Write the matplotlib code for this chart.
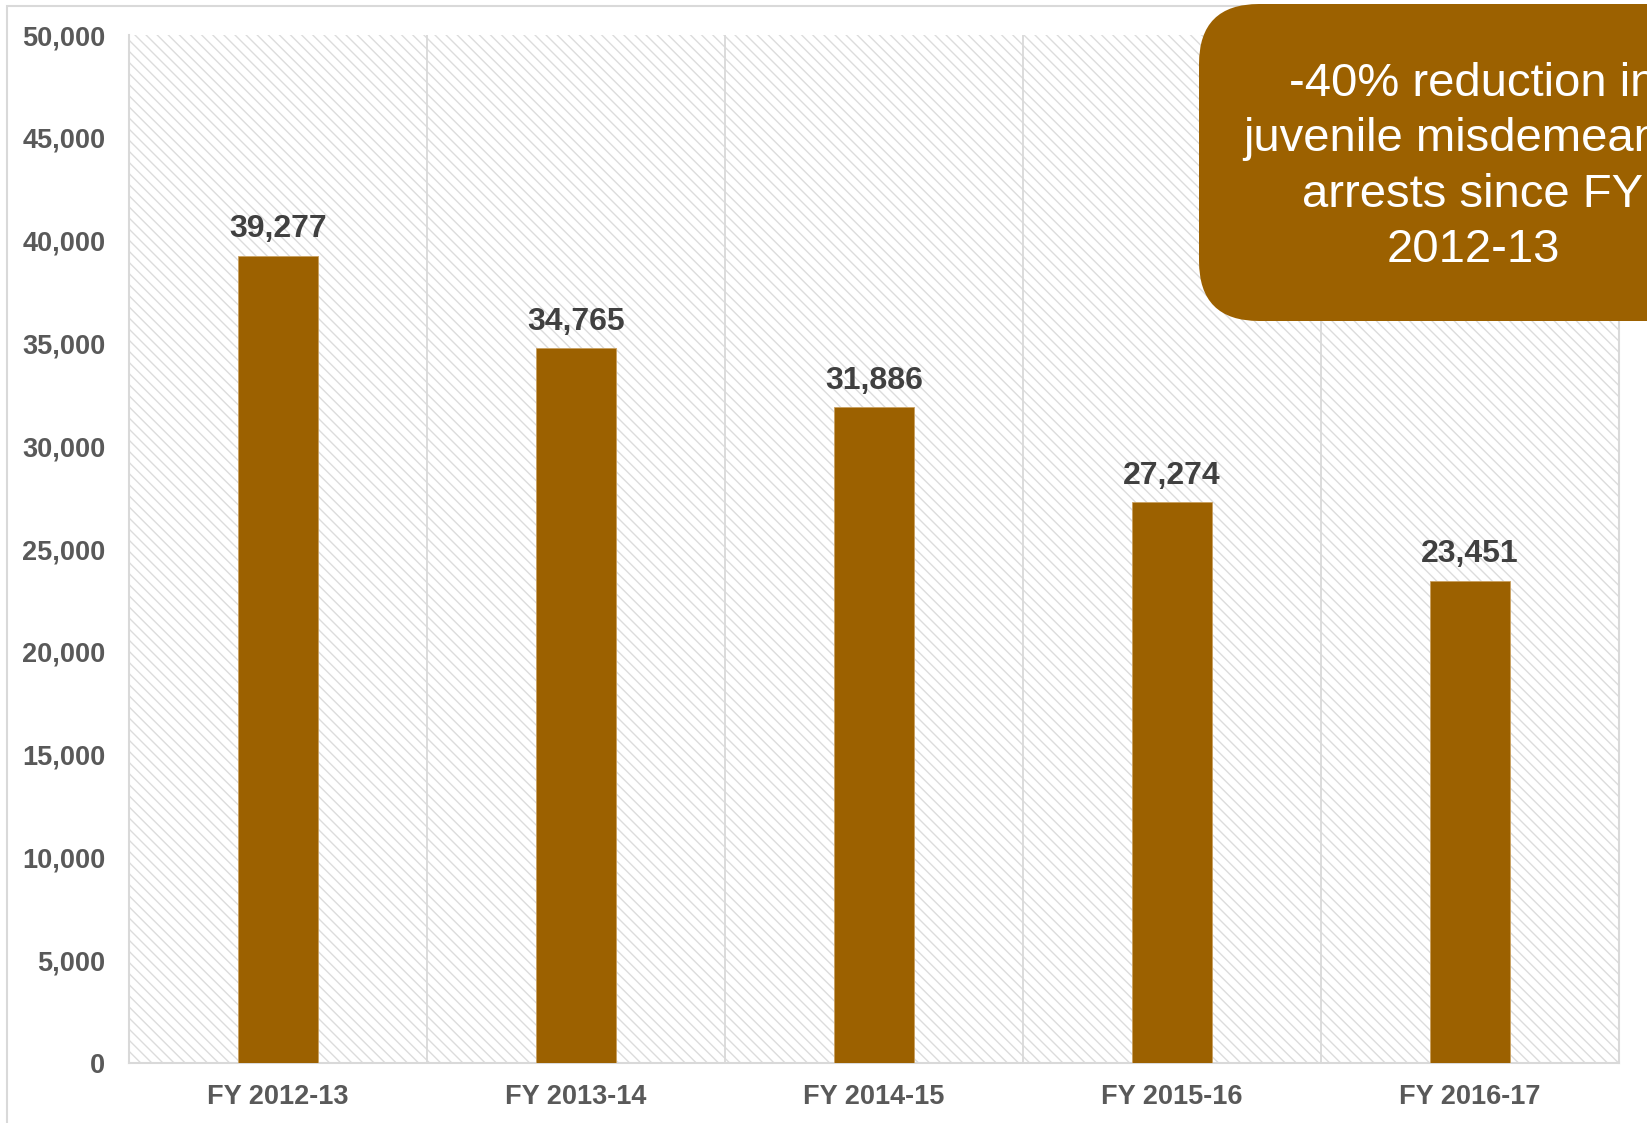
import matplotlib.pyplot as plt
from matplotlib.patches import Rectangle, FancyBboxPatch
from matplotlib.ticker import FuncFormatter

years = ["FY 2012-13", "FY 2013-14", "FY 2014-15", "FY 2015-16", "FY 2016-17"]
arrests = [39277, 34765, 31886, 27274, 23451]
y_ticks = [0, 5000, 10000, 15000, 20000, 25000, 30000, 35000, 40000, 45000, 50000]
callout = "-40% reduction in\njuvenile misdemeanor\narrests since FY\n2012-13"

brown = "#9C6100"
grid_grey = "#D9D9D9"

plt.rcParams["font.family"] = ["Liberation Sans", "DejaVu Sans"]

fig = plt.figure(figsize=(16.47, 11.23), dpi=100)
ax = fig.add_axes([0.0783, 0.0534, 0.9047, 0.9154])

# hatched plot background
ax.patch.set_visible(False)
ax.add_patch(Rectangle((0, 0), 1, 1, transform=ax.transAxes, facecolor="white",
                       edgecolor="#DCDCDC", hatch="\\\\\\", lw=0, zorder=0))

x = range(len(years))
ax.bar(x, arrests, width=0.27, color=brown, edgecolor="#C9A060", linewidth=0.6, zorder=3)

for xi, v in zip(x, arrests):
    ax.annotate(f"{v:,}", (xi, v), xytext=(0, 13.5), textcoords="offset points",
                ha="center", va="baseline", fontsize=23, fontweight="bold",
                color="#404040", zorder=4)

for b in [0.5, 1.5, 2.5, 3.5]:
    ax.axvline(b, color=grid_grey, lw=1.3, zorder=2)

ax.set_xlim(-0.5, len(years) - 0.5)
ax.set_ylim(0, 50000)
ax.set_yticks(y_ticks)
ax.yaxis.set_major_formatter(FuncFormatter(lambda v, p: f"{int(v):,}"))
ax.set_xticks(list(x))
ax.set_xticklabels(years)
ax.tick_params(axis="y", length=0, pad=17, labelsize=19.5, labelcolor="#595959")
ax.tick_params(axis="x", length=0, pad=15, labelsize=19.5, labelcolor="#595959")
for lab in ax.get_xticklabels() + ax.get_yticklabels():
    lab.set_fontweight("bold")

ax.spines["top"].set_visible(False)
for s in ["left", "right", "bottom"]:
    ax.spines[s].set_color(grid_grey)
    ax.spines[s].set_linewidth(1.5)

# outer chart frame
fig.add_artist(Rectangle((0.07, -0.2), 20, 11.37, transform=fig.dpi_scale_trans,
                         facecolor="none", edgecolor=grid_grey, lw=1.5, zorder=0))

# callout box running off the right edge
fig.add_artist(FancyBboxPatch((11.99, 8.02), 6.0, 3.17,
                              boxstyle="round,pad=0,rounding_size=0.6",
                              transform=fig.dpi_scale_trans, facecolor=brown,
                              edgecolor="none", zorder=5))
fig.text(14.73, 9.56, callout, transform=fig.dpi_scale_trans, ha="center", va="center",
         fontsize=34, color="white", linespacing=1.33, zorder=6)

fig.savefig("out.png", dpi=100)
